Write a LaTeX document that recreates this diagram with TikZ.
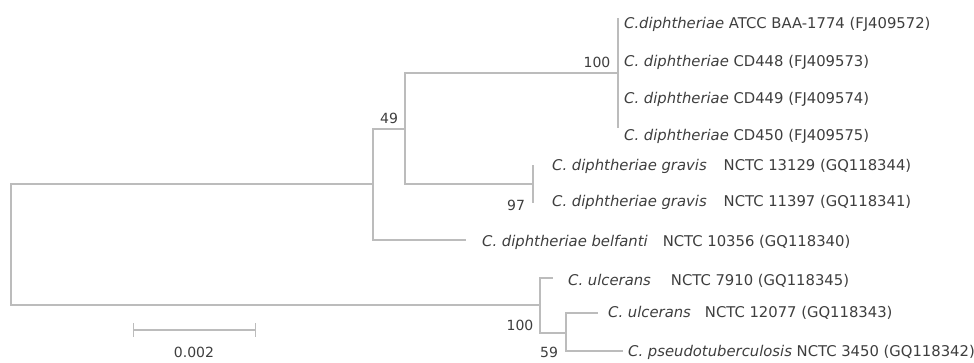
\documentclass[tikz,border=0pt]{standalone}
\usepackage{fontspec}
\setmainfont{DejaVu Sans}
\usetikzlibrary{arrows.meta}
\definecolor{branchgray}{RGB}{188,188,188}
\definecolor{textgray}{RGB}{62,62,62}
\begin{document}
\begin{tikzpicture}[x=1pt,y=-1pt,
    branch/.style={draw=branchgray,line width=1.3pt},
    taxon/.style={anchor=west,inner sep=0pt,text=textgray,font=\fontsize{14.8}{16}\selectfont,text height=10.7pt,text depth=0pt},
    boot/.style={inner sep=0pt,text=textgray,font=\fontsize{14}{15}\selectfont}]
            \useasboundingbox (0,0) rectangle (974,362);

            % branch points
            \coordinate (root) at (11,244);
            \coordinate (nd) at (373,184);
            \coordinate (nu) at (540,305);
            \coordinate (n49) at (405,129);
            \coordinate (n100) at (618,73);
            \coordinate (n97) at (533,184);
            \coordinate (n59) at (566,333);
            \coordinate (t1) at (618,18);
            \coordinate (t4) at (618,128);
            \coordinate (g1) at (533,165);
            \coordinate (g2) at (533,203);
            \coordinate (lbel) at (466,240);
            \coordinate (lu1) at (553,278);
            \coordinate (lu2) at (598,313);
            \coordinate (lps) at (623,351);

            \draw[branch] (root) |- (nd)
                          (root) |- (nu)
                          (nd) |- (n49)
                          (nd) |- (lbel)
                          (n49) |- (n100)
                          (n49) |- (n97)
                          (t1) -- (t4)
                          (g1) -- (g2)
                          (nu) |- (lu1)
                          (nu) |- (n59)
                          (n59) |- (lu2)
                          (n59) |- (lps);

            % taxa
            \node[taxon] (cd1) at (624,23) {\textit{C.diphtheriae} ATCC BAA-1774 (FJ409572)};
            \node[taxon] (cd2) at (624,61) {\textit{C. diphtheriae} CD448 (FJ409573)};
            \node[taxon] (cd3) at (624,98) {\textit{C. diphtheriae} CD449 (FJ409574)};
            \node[taxon] (cd4) at (624,135) {\textit{C. diphtheriae} CD450 (FJ409575)};
            \node[taxon] (gr1) at (552,165) {\textit{C. diphtheriae gravis}\hspace{17pt}NCTC 13129 (GQ118344)};
            \node[taxon] (gr2) at (552,201) {\textit{C. diphtheriae gravis}\hspace{17pt}NCTC 11397 (GQ118341)};
            \node[taxon] (bel) at (482,241) {\textit{C. diphtheriae belfanti}\hspace{15pt}NCTC 10356 (GQ118340)};
            \node[taxon] (ul1) at (568,280) {\textit{C. ulcerans}\hspace{20pt}NCTC 7910 (GQ118345)};
            \node[taxon] (ul2) at (608,312) {\textit{C. ulcerans}\hspace{14pt}NCTC 12077 (GQ118343)};
            \node[taxon] (pst) at (628,351) {\textit{C. pseudotuberculosis} NCTC 3450 (GQ118342)};

            % bootstrap values
            \node[boot] (b100a) at (597,62) {100};
            \node[boot] (b49) at (389,118) {49};
            \node[boot] (b97) at (516,205) {97};
            \node[boot] (b100b) at (520,325) {100};
            \node[boot] (b59) at (549,352) {59};

            % scale bar
            \coordinate (s1) at (133,330);
            \coordinate (s2) at (256,330);
            \draw[branch,{Bar[width=14pt]}-{Bar[width=14pt]}] (s1) -- (s2);
            \node[boot] (scale) at (194,352) {0.002};
        \end{tikzpicture}
\end{document}
